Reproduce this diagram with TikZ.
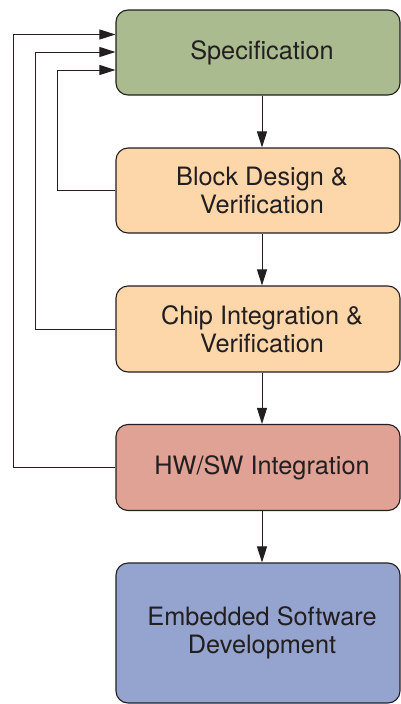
\documentclass[tikz,border=0pt]{standalone}
\usepackage{fontspec}
\setmainfont{TeX Gyre Heros}
\usetikzlibrary{arrows.meta}
\definecolor{specgreen}{HTML}{A9BB8F}
\definecolor{peach}{HTML}{FDD6AA}
\definecolor{rose}{HTML}{DFA294}
\definecolor{lavblue}{HTML}{95A3CF}
\definecolor{ink}{HTML}{231F20}
\tikzset{
  stage/.style={draw=ink, line width=1.1pt, rounded corners=12pt, minimum width=284pt, inner sep=0pt},
  caption/.style={align=center, text=ink, font=\fontsize{25.3}{28.5}\selectfont, inner sep=0pt},
  flow/.style={draw=ink, line width=1pt, -{Triangle[length=16pt,width=10pt]}},
}
\begin{document}
\begin{tikzpicture}[x=1pt,y=-1pt]
  \useasboundingbox (0,0) rectangle (401,704);
  % stage boxes
  \node[stage, fill=specgreen, minimum height=85pt] (spec) at (258,52.5) {};
  \node[stage, fill=peach, minimum height=85pt] (block) at (258,190.5) {};
  \node[stage, fill=peach, minimum height=86pt] (chip) at (258,329) {};
  \node[stage, fill=rose, minimum height=86pt] (hwsw) at (258,467.5) {};
  \node[stage, fill=lavblue, minimum height=140pt] (emb) at (258,633) {};
  % stage captions
  \node[caption] (spec-t) at ([xshift=4pt]spec.center) {Specification};
  \node[caption] (block-t) at ([xshift=4pt]block.center) {Block Design \&\\Verification};
  \node[caption] (chip-t) at ([xshift=4pt]chip.center) {Chip Integration \&\\Verification};
  \node[caption] (hwsw-t) at ([xshift=4pt]hwsw.center) {HW/SW Integration};
  \node[caption] (emb-t) at ([xshift=4pt]emb.center) {Embedded Software\\Development};

  % forward flow
  \draw[flow] ([xshift=4pt]spec.south) -- ([xshift=4pt]block.north);
  \draw[flow] ([xshift=4pt]block.south) -- ([xshift=4pt]chip.north);
  \draw[flow] ([xshift=4pt]chip.south) -- ([xshift=4pt]hwsw.north);
  \draw[flow] ([xshift=4pt]hwsw.south) -- ([xshift=4pt]emb.north);

  % feedback loops back to the specification
  \draw[flow] (block.west) -| (57.5,70) -- (spec.west |- 0,70);
  \draw[flow] (chip.west) -| (35.5,52) -- (spec.west |- 0,52);
  \draw[flow] (hwsw.west) -| (13.5,34.5) -- (spec.west |- 0,34.5);
\end{tikzpicture}
\end{document}
